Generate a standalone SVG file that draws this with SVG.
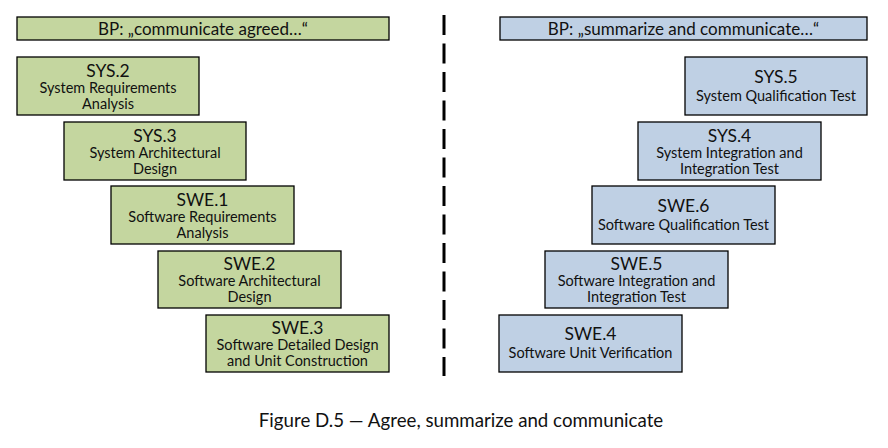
<svg xmlns="http://www.w3.org/2000/svg" width="888" height="448" viewBox="0 0 888 448">
<style>
.g{fill:#C4D69F;stroke:#000;stroke-width:1.3}
.b{fill:#BFD0E4;stroke:#000;stroke-width:1.3}
text{font-family:Lato,"Open Sans","Liberation Sans",sans-serif;fill:#111;text-anchor:middle}
.t{font-size:17.5px}
.s{font-size:14.5px}
.bp{font-size:17px}
.cap{font-size:18.7px}
</style>
<rect width="888" height="448" fill="#fff"/>
<g id="bp-left"><rect class="g" x="17" y="17" width="372" height="23"/><text class="bp" x="203" y="34.5">BP: „communicate agreed…“</text></g>
<g id="bp-right"><rect class="b" x="500" y="17" width="367" height="23"/><text class="bp" x="683.5" y="34.5">BP: „summarize and communicate…“</text></g>
<g id="connectors"><line x1="444" y1="15" x2="444" y2="376" stroke="#000" stroke-width="3" stroke-dasharray="20 8.5"/></g>
<g id="sys2"><rect class="g" x="17" y="57" width="182" height="58"/><text class="t" x="108" y="76.5">SYS.2</text><text class="s" x="108" y="93">System Requirements</text><text class="s" x="108" y="109">Analysis</text></g>
<g id="sys3"><rect class="g" x="64" y="122" width="182" height="58"/><text class="t" x="155" y="141.5">SYS.3</text><text class="s" x="155" y="158">System Architectural</text><text class="s" x="155" y="174">Design</text></g>
<g id="swe1"><rect class="g" x="111" y="186" width="183" height="58"/><text class="t" x="202.5" y="205.5">SWE.1</text><text class="s" x="202.5" y="222">Software Requirements</text><text class="s" x="202.5" y="238">Analysis</text></g>
<g id="swe2"><rect class="g" x="158" y="251" width="183" height="57"/><text class="t" x="249.5" y="269.5">SWE.2</text><text class="s" x="249.5" y="286">Software Architectural</text><text class="s" x="249.5" y="302">Design</text></g>
<g id="swe3"><rect class="g" x="206" y="315" width="183" height="57"/><text class="t" x="297.5" y="333.5">SWE.3</text><text class="s" x="297.5" y="350">Software Detailed Design</text><text class="s" x="297.5" y="366">and Unit Construction</text></g>
<g id="sys5"><rect class="b" x="685" y="57" width="182" height="58"/><text class="t" x="776" y="83">SYS.5</text><text class="s" x="776" y="101">System Qualification Test</text></g>
<g id="sys4"><rect class="b" x="638" y="122" width="183" height="58"/><text class="t" x="729.5" y="141.5">SYS.4</text><text class="s" x="729.5" y="158">System Integration and</text><text class="s" x="729.5" y="174">Integration Test</text></g>
<g id="swe6"><rect class="b" x="592" y="186" width="183" height="58"/><text class="t" x="683.5" y="212">SWE.6</text><text class="s" x="683.5" y="230">Software Qualification Test</text></g>
<g id="swe5"><rect class="b" x="545" y="251" width="183" height="57"/><text class="t" x="636.5" y="269.5">SWE.5</text><text class="s" x="636.5" y="286">Software Integration and</text><text class="s" x="636.5" y="302">Integration Test</text></g>
<g id="swe4"><rect class="b" x="499" y="315" width="183" height="57"/><text class="t" x="590.5" y="340">SWE.4</text><text class="s" x="590.5" y="358">Software Unit Verification</text></g>
<text class="cap" x="461" y="427">Figure D.5 — Agree, summarize and communicate</text>
</svg>
